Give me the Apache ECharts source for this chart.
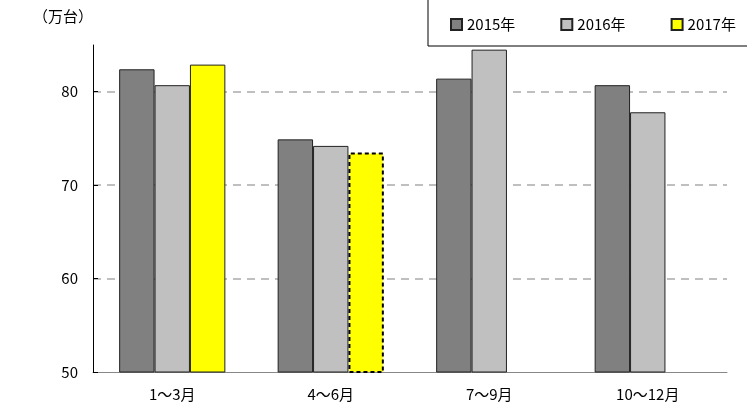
<!DOCTYPE html>
<html>
<head>
<meta charset="utf-8">
<script src="https://cdn.jsdelivr.net/npm/echarts@6/dist/echarts.min.js"></script>
<style>
    html, body { margin: 0; padding: 0; background: #fff; }
    #main { width: 747px; height: 409px; }
</style>
</head>
<body>
<div id="main"></div>
<script>
// 四半期
var categories = ['1～3月', '4～6月', '7～9月', '10～12月'];
var seriesNames = ['2015年', '2016年', '2017年'];
// 万台
var values2015 = [82.4, 74.9, 81.4, 80.7];
var values2016 = [80.7, 74.2, 84.5, 77.8];
var values2017 = [82.9, 73.5, null, null];
var yTicks = [50, 60, 70, 80];

var FONT = '"Noto Sans CJK JP", sans-serif';

/**
 * 点線枠の棒（見込み値）を作る
 */
function buildData(values, dashedIndex) {
    return values.map(function (v, i) {
        if (i === dashedIndex) {
            return {
                value: v,
                itemStyle: {borderType: [4, 3], borderColor: '#000', borderWidth: 2}
            };
        }
        return v;
    });
}

var myChart = echarts.init(document.getElementById('main'), null, {renderer: 'canvas'});
var option = {
    animation: false,
    textStyle: {fontFamily: FONT},
    grid: {left: 93, right: 20, top: 45, bottom: 37},
    graphic: [
        {
            type: 'rect',
            shape: {x: 428, y: -5, width: 330, height: 51},
            style: {fill: '#fff', stroke: '#000', lineWidth: 1},
            z: 0
        },
        {
            type: 'text',
            left: 33,
            top: 9,
            style: {text: '（万台）', font: '15px ' + FONT, fill: '#000'}
        }
    ],
    legend: {
        left: 445,
        top: 12,
        itemWidth: 11,
        itemHeight: 11,
        itemGap: 45,
        icon: 'rect',
        textStyle: {fontSize: 15, color: '#000', fontFamily: FONT},
        data: seriesNames,
        z: 5
    },
    xAxis: {
        type: 'category',
        data: categories,
        axisLine: {lineStyle: {color: '#888'}},
        axisTick: {inside: true, length: 6, lineStyle: {color: '#888'}},
        axisLabel: {fontSize: 15, color: '#000', margin: 15, fontFamily: FONT},
        splitLine: {show: false}
    },
    yAxis: {
        type: 'value',
        min: yTicks[0],
        max: 85,
        interval: 10,
        axisLine: {show: true, lineStyle: {color: '#000'}},
        axisTick: {show: true, inside: true, length: 5, lineStyle: {color: '#000'}},
        axisLabel: {
            fontSize: 15, color: '#000', margin: 15, fontFamily: FONT,
            showMaxLabel: false,
            formatter: function (v) { return yTicks.indexOf(v) >= 0 ? String(v) : ''; }
        },
        splitLine: {
            show: true,
            lineStyle: {
                color: ['rgba(0,0,0,0)', '#aaa', '#aaa', '#aaa', 'rgba(0,0,0,0)'],
                type: [8, 6],
                width: 1.5
            }
        }
    },
    series: [
        {
            name: seriesNames[0],
            type: 'bar',
            barGap: 0,
            barCategoryGap: '33%',
            itemStyle: {color: '#808080', borderColor: '#222', borderWidth: 1},
            data: buildData(values2015, -1)
        },
        {
            name: seriesNames[1],
            type: 'bar',
            barGap: 0,
            barCategoryGap: '33%',
            itemStyle: {color: '#c0c0c0', borderColor: '#222', borderWidth: 1},
            data: buildData(values2016, -1)
        },
        {
            name: seriesNames[2],
            type: 'bar',
            barGap: 0,
            barCategoryGap: '33%',
            itemStyle: {color: '#ffff00', borderColor: '#222', borderWidth: 1},
            data: buildData(values2017, 1)
        }
    ]
};
myChart.setOption(option);
</script>
</body>
</html>
